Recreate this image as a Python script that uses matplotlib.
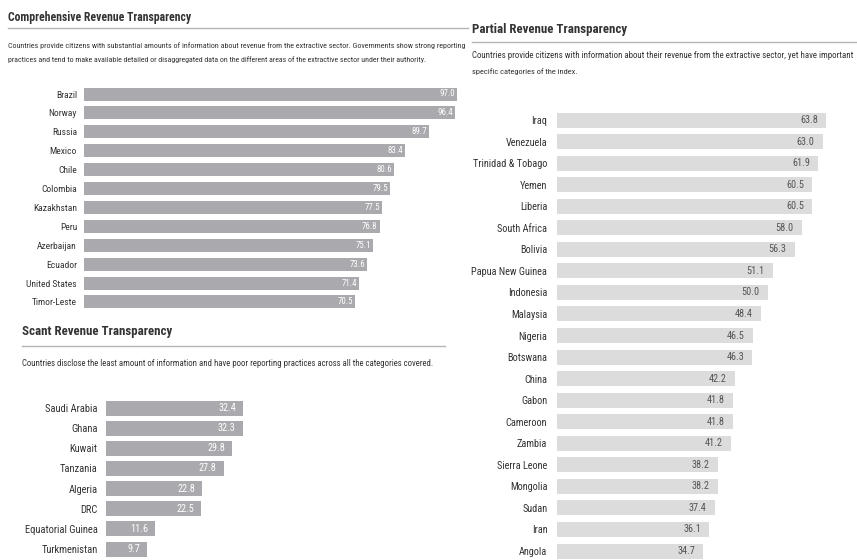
import matplotlib
matplotlib.use("Agg")
import matplotlib.pyplot as plt
from matplotlib import font_manager as fm

# ---- data ---------------------------------------------------------------
comprehensive_countries = ["Brazil", "Norway", "Russia", "Mexico", "Chile", "Colombia",
                           "Kazakhstan", "Peru", "Azerbaijan", "Ecuador", "United States",
                           "Timor-Leste"]
comprehensive_scores = [97.0, 96.4, 89.7, 83.4, 80.6, 79.5, 77.5, 76.8, 75.1, 73.6, 71.4, 70.5]

scant_countries = ["Saudi Arabia", "Ghana", "Kuwait", "Tanzania", "Algeria", "DRC",
                   "Equatorial Guinea", "Turkmenistan"]
scant_scores = [32.4, 32.3, 29.8, 27.8, 22.8, 22.5, 11.6, 9.7]

partial_countries = ["Iraq", "Venezuela", "Trinidad & Tobago", "Yemen", "Liberia",
                     "South Africa", "Bolivia", "Papua New Guinea", "Indonesia", "Malaysia",
                     "Nigeria", "Botswana", "China", "Gabon", "Cameroon", "Zambia",
                     "Sierra Leone", "Mongolia", "Sudan", "Iran", "Angola"]
partial_scores = [63.8, 63.0, 61.9, 60.5, 60.5, 58.0, 56.3, 51.1, 50.0, 48.4, 46.5, 46.3,
                  42.2, 41.8, 41.8, 41.2, 38.2, 38.2, 37.4, 36.1, 34.7]

titles = ["Comprehensive Revenue Transparency", "Scant Revenue Transparency",
          "Partial Revenue Transparency"]
comprehensive_desc = [
    "Countries provide citizens with substantial amounts of information about revenue from "
    "the extractive sector. Governments show strong reporting",
    "practices and tend to make available detailed or disaggregated data on the different "
    "areas of the extractive sector under their authority.",
]
scant_desc = ["Countries disclose the least amount of information and have poor reporting "
              "practices across all the categories covered."]
partial_desc = [
    "Countries provide citizens with information about their revenue from the extractive "
    "sector, yet have important",
    "specific categories of the index.",
]


# ---- fonts --------------------------------------------------------------
def pick_font(names):
    for name in names:
        try:
            fm.findfont(fm.FontProperties(family=name), fallback_to_default=False)
            return name
        except ValueError:
            continue
    return "DejaVu Sans"


FONT = pick_font(["Liberation Sans Narrow", "Arial Narrow", "Roboto Condensed",
                  "DejaVu Sans Condensed", "Liberation Sans", "Arial"])
plt.rcParams["font.family"] = [FONT, "DejaVu Sans"]

W, H = 857, 560
fig = plt.figure(figsize=(W / 100, H / 100), dpi=100)
fig.patch.set_facecolor("white")
renderer = fig.canvas.get_renderer()

DARK = "#333333"
BAR_DARK = "#a9a9ae"
BAR_LIGHT = "#dcdcdc"
RULE = "#b4b4b4"


def fx(x):
    return x / W


def fy(y):
    return 1 - y / H


def fit_text(x, y, s, width_px, size, **kw):
    """Place text at pixel position and scale its size to a given pixel width."""
    t = fig.text(fx(x), fy(y), s, fontsize=size, va="center", ha="left", **kw)
    w = t.get_window_extent(renderer).width
    if w > 0:
        t.set_fontsize(size * width_px / w)
    return t


def rule(x0, x1, y, color=RULE, lw=1.0):
    fig.add_artist(plt.Line2D([fx(x0), fx(x1)], [fy(y), fy(y)], color=color, lw=lw,
                              transform=fig.transFigure))


def panel(names, values, left, scale, xmax, y_first, y_last, bar_px, color,
          label_pad, label_size, value_color, value_size, value_pad, value_weight="normal"):
    n = len(names)
    step = (y_last - y_first) / (n - 1)
    top = y_first - step / 2
    bottom = y_last + step / 2
    ax = fig.add_axes([fx(left), fy(bottom), scale * xmax / W, (bottom - top) / H])
    ax.set_xlim(0, xmax)
    ax.set_ylim(n - 0.5, -0.5)
    ax.barh(range(n), values, height=bar_px / step, color=color, edgecolor="none")
    ax.set_yticks(range(n))
    ax.set_yticklabels(names, fontsize=label_size, color=DARK)
    ax.tick_params(axis="y", length=0, pad=label_pad)
    ax.set_xticks([])
    for sp in ax.spines.values():
        sp.set_visible(False)
    ax.patch.set_alpha(0)
    for i, v in enumerate(values):
        ax.annotate(f"{v:.1f}", xy=(v, i), xytext=(-value_pad, 0), textcoords="offset points",
                    ha="right", va="center", fontsize=value_size, color=value_color,
                    fontweight=value_weight)
    return ax


# ---- Comprehensive ----------------------------------------------------------
fit_text(8, 17, titles[0], 183, 10, fontweight="bold", color=DARK)
rule(8, 468, 28)
fit_text(8, 46, comprehensive_desc[0], 459, 6.5, color=DARK)
fit_text(8, 60, comprehensive_desc[1], 420, 6.5, color=DARK)
panel(comprehensive_countries, comprehensive_scores, left=84, scale=3.85, xmax=100,
      y_first=94, y_last=302, bar_px=13, color=BAR_DARK, label_pad=5, label_size=6.8,
      value_color="white", value_size=6.4, value_pad=1.5)

# ---- Scant ------------------------------------------------------------------
fit_text(22, 331, titles[1], 150, 11, fontweight="bold", color=DARK)
rule(22, 445, 346)
fit_text(22, 364, scant_desc[0], 416, 7, color=DARK)
panel(scant_countries, scant_scores, left=106, scale=4.23, xmax=40,
      y_first=408, y_last=549, bar_px=15, color=BAR_DARK, label_pad=6, label_size=7.6,
      value_color="white", value_size=7.4, value_pad=5)

# ---- Partial ------------------------------------------------------------------
fit_text(472, 30, titles[2], 155, 10, fontweight="bold", color=DARK)
rule(472, 857, 42)
fit_text(472, 56, partial_desc[0], 383, 7, color=DARK)
fit_text(472, 72, partial_desc[1], 107, 7, color=DARK)
panel(partial_countries, partial_scores, left=557, scale=4.22, xmax=70,
      y_first=120, y_last=551, bar_px=15, color=BAR_LIGHT, label_pad=7, label_size=7.4,
      value_color="#555555", value_size=7.4, value_pad=6)

fig.savefig("out.png", dpi=100, facecolor="white")
